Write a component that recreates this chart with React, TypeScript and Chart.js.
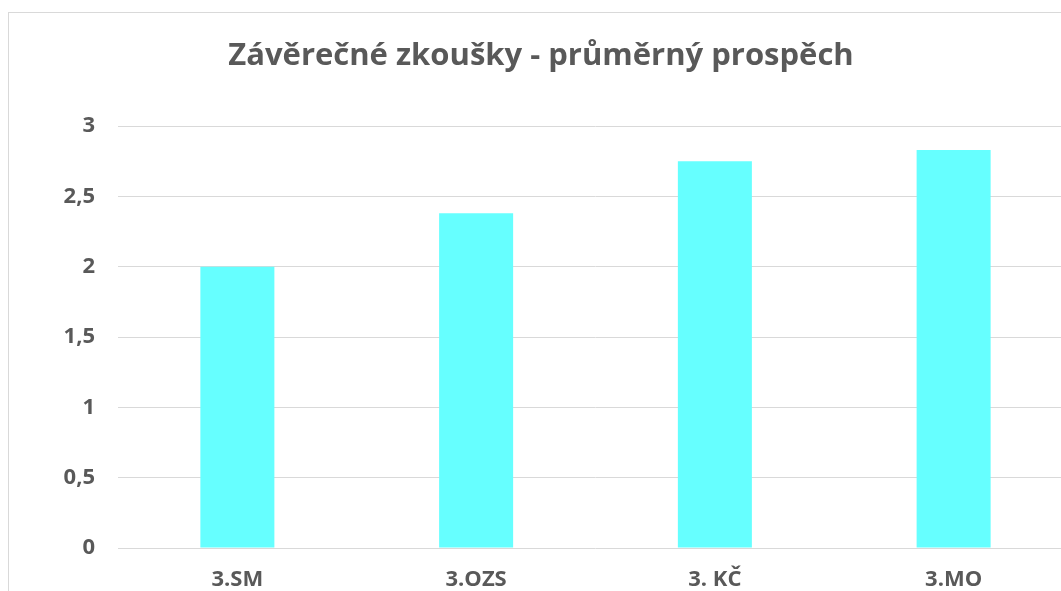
import React, { useEffect, useRef } from "react";
import { Chart, registerables } from "chart.js";

Chart.register(...registerables);

const categories = ["3.SM", "3.OZS", "3. KČ", "3.MO"];
const values = [2.0, 2.38, 2.75, 2.83];
const yTickLabels = ["0", "0,5", "1", "1,5", "2", "2,5", "3"];
const titleText = "Závěrečné zkoušky - průměrný prospěch";

const TEXT = "#595959";
const FONT = "'Open Sans', 'Noto Sans', sans-serif";

export default function App() {
  const ref = useRef<HTMLCanvasElement | null>(null);
  useEffect(() => {
    if (!ref.current) return;
    const chart = new Chart(ref.current, {
      type: "bar",
      data: {
        labels: categories,
        datasets: [
          {
            data: values,
            backgroundColor: "#66FFFF",
            borderWidth: 0,
            categoryPercentage: 1,
            barPercentage: 0.31,
          },
        ],
      },
      options: {
        animation: false,
        responsive: false,
        maintainAspectRatio: false,
        layout: { padding: { top: 0, left: 0, right: 0, bottom: 0 } },
        plugins: {
          legend: { display: false },
          tooltip: { enabled: false },
          title: {
            display: true,
            text: titleText,
            color: TEXT,
            font: { family: FONT, size: 31, weight: "bold", lineHeight: 1.2 },
            padding: { top: 25, bottom: 51 },
          },
        },
        scales: {
          x: {
            grid: { display: false, drawTicks: false },
            border: { display: false },
            ticks: {
              color: TEXT,
              font: { family: FONT, size: 22, weight: "bold" },
              padding: 19,
              maxRotation: 0,
            },
            afterFit: (s: any) => {
              s.height = 43;
            },
          },
          y: {
            min: 0,
            max: 3,
            grid: { color: "#d9d9d9", lineWidth: 1, drawTicks: false },
            border: { display: false },
            ticks: {
              stepSize: 0.5,
              color: TEXT,
              font: { family: FONT, size: 22, weight: "bold" },
              padding: 23,
              callback: (_v: any, i: number) => yTickLabels[i],
            },
            afterFit: (s: any) => {
              s.width = 109;
            },
          },
        },
      },
    });
    return () => chart.destroy();
  }, []);
  return (
    <div
      style={{
        position: "fixed",
        left: 8,
        top: 12,
        right: 0,
        bottom: 0,
        borderLeft: "1px solid #d9d9d9",
        borderTop: "1px solid #d9d9d9",
        overflow: "hidden",
        background: "#fff",
      }}
    >
      <canvas ref={ref} width={1064} height={578} style={{ display: "block" }} />
    </div>
  );
}
